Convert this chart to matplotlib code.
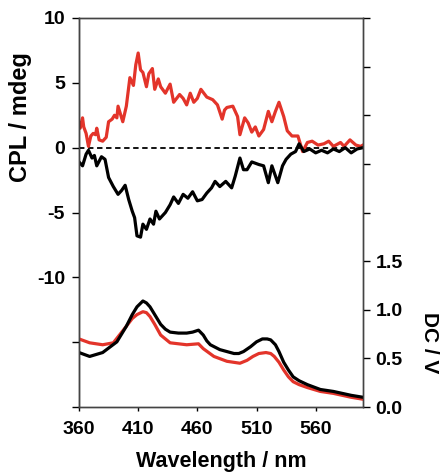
import numpy as np
import matplotlib
matplotlib.use("Agg")
import matplotlib.pyplot as plt

plt.rcParams['font.family'] = ['Liberation Sans', 'DejaVu Sans']
plt.rcParams['font.weight'] = 'bold'

# CPL (mdeg), red sample
red_cpl_wl = [360, 361, 363, 364, 366, 368, 370, 372, 374, 375, 377, 380, 383, 385, 388, 390,
              392, 393, 395, 397, 400, 403, 406, 408, 410, 412, 414, 417, 419, 422, 424,
              427, 429, 433, 437, 440, 445, 448, 451, 454, 457, 460, 463, 468, 473, 477,
              481, 483, 485, 490, 494, 496, 500, 503, 506, 509, 512, 516, 520, 523, 526,
              529, 533, 536, 540, 545, 549, 553, 557, 562, 567, 571, 575, 581, 584, 589,
              594, 598, 600]
red_cpl = [1.9, 1.5, 2.3, 1.6, 1.1, 0.1, 0.9, 1.1, 1.0, 1.5, 0.6, 0.5, 0.8, 2.0, 2.2, 2.5,
           2.3, 3.2, 2.6, 2.0, 3.2, 5.4, 4.8, 6.4, 7.3, 6.0, 5.8, 4.7, 5.7, 6.1, 4.5,
           5.3, 4.7, 4.2, 4.9, 3.5, 4.1, 3.8, 3.3, 4.2, 3.5, 3.8, 4.5, 3.9, 3.7, 3.3,
           2.2, 2.9, 3.1, 3.2, 2.4, 1.0, 2.3, 1.9, 1.2, 1.6, 0.9, 1.4, 2.8, 2.0, 2.8,
           3.5, 2.4, 1.3, 0.9, 0.9, -0.3, 0.4, 0.5, 0.2, 0.3, 0.5, 0.1, 0.4, 0.1, 0.6,
           0.2, 0.1, 0.2]

# CPL (mdeg), black sample
blk_cpl_wl = [360, 363, 366, 368, 371, 373, 375, 379, 382, 385, 389, 393, 396, 399, 402, 405,
              407, 409, 412, 414, 417, 420, 423, 425, 428, 433, 437, 440, 444, 448, 452,
              456, 460, 464, 468, 472, 475, 479, 484, 489, 492, 496, 499, 502, 506, 512,
              516, 520, 523, 528, 532, 535, 539, 543, 546, 550, 555, 560, 565, 570, 575,
              580, 585, 590, 595, 600]
blk_cpl = [-1.1, -1.4, -0.5, -0.2, -0.8, -0.6, -1.4, -0.7, -0.9, -2.3, -3.0, -3.6, -3.3, -2.9, -4.0, -4.9,
           -5.4, -6.8, -6.9, -5.9, -6.3, -5.5, -5.9, -4.9, -5.5, -5.0, -4.4, -3.8, -4.3, -3.6, -3.9,
           -3.4, -4.1, -4.0, -3.5, -3.1, -2.6, -3.0, -2.6, -3.1, -2.2, -0.8, -1.7, -1.7, -1.1, -1.3,
           -1.4, -2.7, -1.4, -2.7, -1.4, -0.9, -0.5, -0.3, 0.3, -0.3, -0.1, -0.4, -0.2, -0.4, -0.1,
           -0.3, 0.0, -0.4, -0.1, 0.0]

# DC (V)
blk_dc_wl = [360, 369, 380, 392, 400, 405, 409, 414, 417, 420, 424, 429, 433, 437, 444, 451,
             456, 461, 465, 468, 471, 479, 485, 491, 495, 499, 505, 510, 515, 519, 522,
             526, 529, 533, 537, 541, 546, 553, 564, 575, 590, 600]
blk_dc = [0.56, 0.52, 0.56, 0.67, 0.83, 0.95, 1.03, 1.09, 1.07, 1.03, 0.95, 0.85, 0.80, 0.77, 0.76, 0.76,
          0.77, 0.79, 0.74, 0.68, 0.64, 0.59, 0.57, 0.55, 0.55, 0.57, 0.62, 0.67, 0.70, 0.70, 0.69,
          0.64, 0.57, 0.46, 0.38, 0.31, 0.27, 0.23, 0.18, 0.16, 0.12, 0.10]
red_dc_wl = [360, 369, 380, 389, 400, 405, 409, 414, 417, 420, 424, 429, 437, 451, 461, 465,
             474, 485, 496, 502, 507, 512, 518, 522, 525, 529, 533, 537, 541, 546, 553,
             564, 575, 590, 600]
red_dc = [0.70, 0.66, 0.64, 0.66, 0.83, 0.91, 0.95, 0.98, 0.97, 0.93, 0.85, 0.74, 0.66, 0.64, 0.65, 0.60,
          0.52, 0.47, 0.45, 0.48, 0.52, 0.55, 0.56, 0.55, 0.52, 0.46, 0.38, 0.31, 0.26, 0.23, 0.20,
          0.16, 0.14, 0.10, 0.08]

RED = '#e3342a'

fig = plt.figure(figsize=(4.42, 4.72), dpi=100)
ax = fig.add_axes([79/442, 1 - 407/472, 284/442, 389/472])
ax2 = ax.twinx()

ax.axhline(0, color='black', ls=(0, (3, 2)), lw=1.3)
ax.plot(red_cpl_wl, red_cpl, color=RED, lw=2.3)
ax.plot(blk_cpl_wl, blk_cpl, color='black', lw=2.3)
ax2.plot(red_dc_wl, red_dc, color=RED, lw=2.3)
ax2.plot(blk_dc_wl, blk_dc, color='black', lw=2.3)

ax.set_xlim(360, 600)
ax.set_ylim(-20, 10)
ax2.set_ylim(0, 4)

ax.set_xticks([360, 410, 460, 510, 560])
ax.set_yticks([-20, -15, -10, -5, 0, 5, 10])
ax.set_yticklabels(['', '', '-10', '-5', '0', '5', '10'])
ax2.set_yticks(np.arange(0, 4.01, 0.5))
ax2.set_yticklabels(['0.0', '0.5', '1.0', '1.5', '', '', '', '', ''])

ax.tick_params(axis='y', length=5, width=1, pad=5, labelsize=14)
ax.tick_params(axis='x', length=3, width=1, pad=7, labelsize=14)
ax2.tick_params(axis='y', length=5, width=1, pad=4, labelsize=14)

for a in (ax, ax2):
    for s in a.spines.values():
        s.set_color('#444444')
        s.set_linewidth(1)
ax.spines['left'].set_color('black')

fig.text(21/442, 1 - 117/472, 'CPL / mdeg', rotation=90, ha='center', va='center',
         fontsize=17, fontweight='bold')
fig.text(430/442, 1 - 343/472, 'DC / V', rotation=270, ha='center', va='center',
         fontsize=15, fontweight='bold')
fig.text(221/442, 1 - 462/472, 'Wavelength / nm', ha='center', va='center',
         fontsize=15.5, fontweight='bold')

fig.savefig('out.png', dpi=100)
